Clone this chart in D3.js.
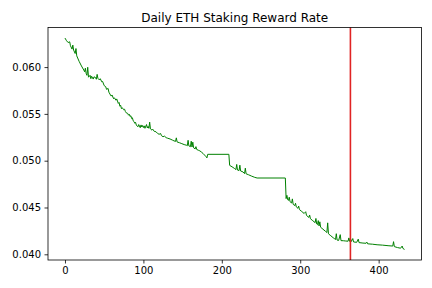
<!DOCTYPE html>
<meta charset="utf-8">
<style>
body { margin: 0; background: #fff; }
text { font-family: "DejaVu Sans", sans-serif; }
.axis .domain { display: none; }
.axis text { font-size: 10px; fill: #000; }
.axis line { stroke: #000; stroke-width: 0.8; }
</style>
<svg width="432" height="288"></svg>
<script src="https://cdn.jsdelivr.net/npm/d3@7"></script>
<script>

// day index and daily staking reward rate
var days = [
  0, 2, 4, 6, 7, 9, 10, 11, 13, 14,
  15, 18, 21, 24, 25, 26, 27, 28, 29, 30,
  32, 33, 34, 36, 37, 39, 40, 41, 42, 44,
  45, 47, 48, 50, 52, 53, 55, 56, 58, 59,
  60, 62, 63, 65, 66, 68, 69, 70, 71, 72,
  73, 75, 76, 77, 78, 80, 81, 82, 83, 84,
  85, 86, 87, 88, 89, 90, 91, 93, 94, 96,
  97, 98, 99, 100, 101, 102, 104, 105, 106, 107,
  108, 109, 111, 112, 114, 116, 118, 120, 122, 123,
  125, 127, 129, 131, 134, 137, 139, 141, 142, 143,
  146, 149, 152, 155, 156, 157, 158, 160, 161, 162,
  163, 164, 166, 167, 168, 170, 172, 174, 176, 178,
  180, 181, 182, 209, 210, 213, 216, 218, 219, 220,
  222, 223, 224, 227, 229, 230, 231, 234, 238, 242,
  245, 281, 282, 283, 284, 285, 286, 287, 289, 290,
  291, 293, 294, 295, 297, 298, 299, 302, 305, 307,
  308, 311, 312, 313, 316, 319, 320, 321, 322, 323,
  324, 325, 326, 329, 332, 334, 335, 336, 339, 342,
  344, 345, 346, 347, 349, 351, 352, 355, 358, 361,
  362, 363, 364, 365, 367, 368, 372, 374, 375, 380,
  384, 385, 386, 392, 398, 405, 412, 418, 419, 420,
  424, 428, 430, 431, 433
];

var rates = [
  0.06310, 0.06282, 0.06262, 0.06270, 0.06228, 0.06192, 0.06235, 0.06182, 0.06145, 0.06198,
  0.06120, 0.06062, 0.06012, 0.05968, 0.05950, 0.05988, 0.05932, 0.05912, 0.05998, 0.05892,
  0.05912, 0.05876, 0.05902, 0.05872, 0.05896, 0.05888, 0.05870, 0.05922, 0.05880, 0.05862,
  0.05876, 0.05842, 0.05846, 0.05802, 0.05790, 0.05762, 0.05772, 0.05732, 0.05702, 0.05690,
  0.05702, 0.05662, 0.05672, 0.05646, 0.05660, 0.05612, 0.05622, 0.05582, 0.05592, 0.05556,
  0.05566, 0.05544, 0.05550, 0.05526, 0.05512, 0.05505, 0.05486, 0.05496, 0.05472, 0.05480,
  0.05450, 0.05458, 0.05426, 0.05418, 0.05400, 0.05410, 0.05380, 0.05362, 0.05386, 0.05352,
  0.05382, 0.05360, 0.05376, 0.05354, 0.05372, 0.05346, 0.05386, 0.05350, 0.05366, 0.05346,
  0.05412, 0.05340, 0.05326, 0.05336, 0.05312, 0.05310, 0.05292, 0.05282, 0.05290, 0.05268,
  0.05256, 0.05262, 0.05246, 0.05240, 0.05232, 0.05220, 0.05212, 0.05206, 0.05244, 0.05200,
  0.05192, 0.05182, 0.05172, 0.05165, 0.05160, 0.05218, 0.05158, 0.05150, 0.05208, 0.05146,
  0.05198, 0.05138, 0.05126, 0.05150, 0.05120, 0.05112, 0.05105, 0.05092, 0.05078, 0.05060,
  0.05042, 0.05030, 0.05068, 0.05068, 0.04950, 0.04935, 0.04918, 0.04905, 0.04960, 0.04900,
  0.04895, 0.04952, 0.04890, 0.04880, 0.04862, 0.04920, 0.04860, 0.04850, 0.04835, 0.04822,
  0.04815, 0.04815, 0.04595, 0.04630, 0.04583, 0.04576, 0.04610, 0.04562, 0.04548, 0.04592,
  0.04534, 0.04520, 0.04545, 0.04506, 0.04492, 0.04515, 0.04478, 0.04457, 0.04436, 0.04455,
  0.04415, 0.04394, 0.04420, 0.04380, 0.04359, 0.04338, 0.04383, 0.04324, 0.04317, 0.04360,
  0.04303, 0.04347, 0.04289, 0.04268, 0.04247, 0.04233, 0.04336, 0.04219, 0.04198, 0.04177,
  0.04165, 0.04158, 0.04220, 0.04152, 0.04148, 0.04210, 0.04146, 0.04145, 0.04142, 0.04140,
  0.04175, 0.04138, 0.04170, 0.04136, 0.04168, 0.04132, 0.04128, 0.04162, 0.04125, 0.04120,
  0.04118, 0.04130, 0.04112, 0.04108, 0.04102, 0.04098, 0.04092, 0.04088, 0.04135, 0.04082,
  0.04072, 0.04065, 0.04088, 0.04062, 0.04052
];

var xTicks = [0, 100, 200, 300, 400];
var yTicks = [0.040, 0.045, 0.050, 0.055, 0.060];
var markDay = 364;
var title = "Daily ETH Staking Reward Rate";

var svg = d3.select("svg"),
    margin = {left: 48, right: 421.5, top: 27.5, bottom: 260};

var data = days.map(function(d, i) { return {day: d, rate: rates[i]}; });

// matplotlib style 5% margins around the data
function pad(ext) {
  var m = (ext[1] - ext[0]) * 0.05;
  return [ext[0] - m, ext[1] + m];
}

var x = d3.scaleLinear()
    .domain(pad(d3.extent(days)))
    .range([margin.left, margin.right]);

var y = d3.scaleLinear()
    .domain(pad(d3.extent(rates)))
    .range([margin.bottom, margin.top]);

svg.append("path")
    .datum(data)
    .attr("fill", "none")
    .attr("stroke", "#008000")
    .attr("stroke-width", 1)
    .attr("stroke-linejoin", "round")
    .attr("d", d3.line()
      .x(function(d) { return x(d.day); })
      .y(function(d) { return y(d.rate); }));

svg.append("line")
    .attr("x1", x(markDay))
    .attr("x2", x(markDay))
    .attr("y1", margin.top)
    .attr("y2", margin.bottom)
    .attr("stroke", "#e02424")
    .attr("stroke-width", 1.6);

svg.append("rect")
    .attr("x", margin.left)
    .attr("y", margin.top)
    .attr("width", margin.right - margin.left)
    .attr("height", margin.bottom - margin.top)
    .attr("fill", "none")
    .attr("stroke", "#000")
    .attr("stroke-width", 0.8);

svg.append("g")
    .attr("class", "axis")
    .attr("transform", "translate(0," + margin.bottom + ")")
    .call(d3.axisBottom(x).tickValues(xTicks).tickSize(3.5).tickPadding(3.5).tickFormat(d3.format("d")));

svg.append("g")
    .attr("class", "axis")
    .attr("transform", "translate(" + margin.left + ",0)")
    .call(d3.axisLeft(y).tickValues(yTicks).tickSize(3.5).tickPadding(3.5).tickFormat(d3.format(".3f")));

svg.selectAll(".axis").attr("font-family", null).attr("font-size", null);

svg.append("text")
    .attr("x", (margin.left + margin.right) / 2)
    .attr("y", margin.top - 6)
    .attr("text-anchor", "middle")
    .style("font-size", "12px")
    .attr("fill", "#000")
    .text(title);

</script>
